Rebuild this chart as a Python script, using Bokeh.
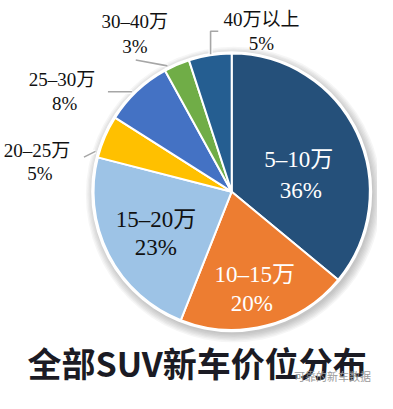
import math
from bokeh.plotting import figure
from bokeh.models import Range1d, ColumnDataSource
from bokeh.core.properties import value
from bokeh.embed import file_html
from bokeh.resources import INLINE

# ---- data ----
categories = ["5–10万", "10–15万", "15–20万", "20–25万", "25–30万", "30–40万", "40万以上"]
shares = [36, 20, 23, 5, 8, 3, 5]
pct_labels = ["36%", "20%", "23%", "5%", "8%", "3%", "5%"]
colors = ["#25507A", "#ED7D31", "#9DC3E6", "#FFC000", "#4472C4", "#70AD47", "#255E91"]
title_text = "全部SUV新车价位分布"
watermark = "可靠的新车数据"

W, H = 377, 393
RW, RH = 393, 409          # reference canvas units
def Y(s):  # reference y (top-down) -> data y
    return RH - s

p = figure(width=W, height=H, x_range=Range1d(0, RW), y_range=Range1d(0, RH),
           output_backend="svg", toolbar_location=None, min_border=0)
p.xaxis.visible = False
p.yaxis.visible = False
p.xgrid.grid_line_color = None
p.ygrid.grid_line_color = None
p.outline_line_color = None
p.background_fill_color = "white"
p.border_fill_color = "white"

cx, cy, R = 241, Y(199), 144

# soft shadow
for i in range(7):
    p.circle(x=cx + 2, y=cy - 3, radius=R + 10 - i * 1.4, fill_color="#555555",
             fill_alpha=0.05, line_color=None)
p.circle(x=cx, y=cy, radius=R + 2.5, fill_color="white", line_color=None)

# wedges (clockwise from 12 o'clock)
total = float(sum(shares))
cum = 0.0
starts, ends = [], []
for s in shares:
    a0 = math.pi / 2 - 2 * math.pi * (cum + s) / total
    a1 = math.pi / 2 - 2 * math.pi * cum / total
    starts.append(a0)
    ends.append(a1)
    cum += s
src = ColumnDataSource(dict(start=starts, end=ends, color=colors, cat=categories, share=shares))
p.wedge(x=cx, y=cy, radius=R, start_angle="start", end_angle="end", direction="anticlock",
        fill_color="color", line_color="white", line_width=2, source=src)

# leader lines
leaders = [
    [(219, 56), (219, 32), (227, 32)],
    [(174, 68), (141, 62)],
    [(137, 95), (112, 95)],
    [(99, 157), (87, 163)],
]
for pts in leaders:
    xs = [q[0] for q in pts]
    ys = [Y(q[1]) for q in pts]
    p.line(xs, ys, line_color="white", line_width=4)
    p.line(xs, ys, line_color="#A6A6A6", line_width=1.6)

font = value("'Liberation Serif', 'Noto Sans CJK SC', serif")
# label layout: (line1 center, line2 center, size, color)
layout = [
    ((311, 165), (313, 198), "23px", "white"),
    ((265, 285), (262, 315), "23px", "white"),
    ((162, 228), (162, 257), "23px", "#111111"),
    ((38, 156), (41, 180), "19px", "#111111"),
    ((64, 82), (67, 107), "19px", "#111111"),
    ((140, 22), (140, 48), "19px", "#111111"),
    ((272, 20), (272, 45), "19px", "#111111"),
]
for i, (l1, l2, sz, col) in enumerate(layout):
    p.text(x=[l1[0]], y=[Y(l1[1])], text=[categories[i]], text_font=font, text_font_size=sz,
           text_color=col, text_align="center", text_baseline="middle")
    p.text(x=[l2[0]], y=[Y(l2[1])], text=[pct_labels[i]], text_font=font, text_font_size=sz,
           text_color=col, text_align="center", text_baseline="middle")

# title
p.text(x=[205], y=[Y(377)], text=[title_text], text_font=value("Noto Sans CJK SC"),
       text_font_size="34px", text_font_style="bold", text_color="#1B1B24",
       text_align="center", text_baseline="middle")
# watermark
p.text(x=[346], y=[Y(391)], text=[watermark], text_font=value("Noto Sans CJK SC"),
       text_font_size="11px", text_color="#9A9A9A", text_align="center", text_baseline="middle")

open("out.html", "w").write(file_html(p, INLINE))
